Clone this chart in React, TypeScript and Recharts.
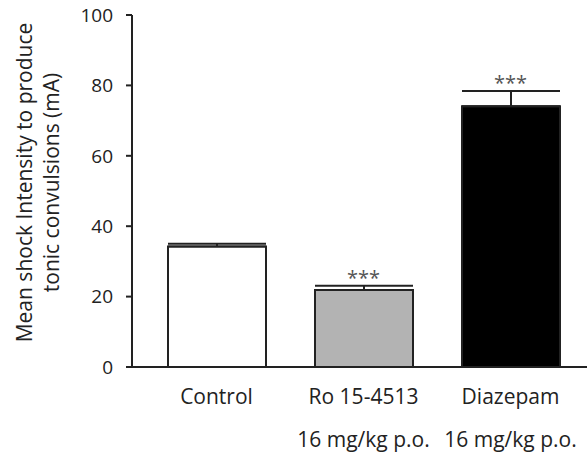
import React from 'react';
import { BarChart, Bar, XAxis, YAxis, ErrorBar, Cell, ReferenceDot } from 'recharts';

const categories = ['Control', 'Ro 15-4513', 'Diazepam'];
const doses = ['', '16 mg/kg p.o.', '16 mg/kg p.o.'];
const means = [34.2, 21.9, 74.1];
const sems = [0.8, 1.2, 4.3];
const stars = ['', '***', '***'];
const fills = ['#ffffff', '#b3b3b3', '#000000'];
const yTicks = [0, 20, 40, 60, 80, 100];

const data = categories.map((c, i) => ({
  name: c,
  dose: doses[i],
  value: means[i],
  err: [0, sems[i]],
  top: means[i] + sems[i],
  star: stars[i],
}));

const FONT = '"Open Sans", sans-serif';
const INK = '#222222';

const XTick = (props: any) => {
  const { x, y, payload } = props;
  const i = categories.indexOf(payload.value);
  return (
    <g>
      <text x={x} y={y + 29} textAnchor="middle" fontSize={21} fill={INK} fontFamily={FONT}>
        {payload.value}
      </text>
      {doses[i] ? (
        <text x={x} y={y + 72} textAnchor="middle" fontSize={21} fill={INK} fontFamily={FONT}>
          {doses[i]}
        </text>
      ) : null}
    </g>
  );
};

const YLabel = () => (
  <g>
    <text x={32} y={182.5} transform="rotate(-90 32 182.5)" textAnchor="middle" fontSize={21} fill={INK} fontFamily={FONT}>
      Mean shock Intensity to produce
    </text>
    <text x={59} y={182.5} transform="rotate(-90 59 182.5)" textAnchor="middle" fontSize={21} fill={INK} fontFamily={FONT}>
      tonic convulsions (mA)
    </text>
  </g>
);

export default function App() {
  return (
    <div style={{ position: 'absolute', left: 0, top: 0, background: '#fff' }}>
      <BarChart width={587} height={452} data={data} margin={{ top: 15, right: 0, bottom: 0, left: 0 }}>
        <XAxis
          dataKey="name"
          height={85}
          padding={{ left: 11, right: 3 }}
          axisLine={{ stroke: INK, strokeWidth: 2 }}
          tickLine={false}
          tick={<XTick />}
          interval={0}
        />
        <YAxis
          width={132}
          domain={[0, 100]}
          ticks={yTicks}
          axisLine={{ stroke: INK, strokeWidth: 2 }}
          tickLine={{ stroke: INK, strokeWidth: 2 }}
          tickSize={6}
          tickMargin={13}
          tick={{ fontSize: 19, fill: INK, fontFamily: FONT }}
          label={<YLabel />}
        />
        <Bar dataKey="value" barSize={98} stroke={INK} strokeWidth={2} isAnimationActive={false}>
          {data.map((d, i) => (
            <Cell key={i} fill={fills[i]} />
          ))}
          <ErrorBar dataKey="err" width={49} stroke={INK} strokeWidth={2} direction="y" isAnimationActive={false} />
        </Bar>
        {data.filter((d) => d.star).map((d) => (
          <ReferenceDot
            key={d.name}
            x={d.name}
            y={d.top}
            r={0}
            fill="none"
            stroke="none"
            ifOverflow="visible"
            label={{ value: d.star, position: 'top', offset: 1, fill: '#555', fontSize: 20, fontFamily: FONT }}
          />
        ))}
      </BarChart>
    </div>
  );
}
